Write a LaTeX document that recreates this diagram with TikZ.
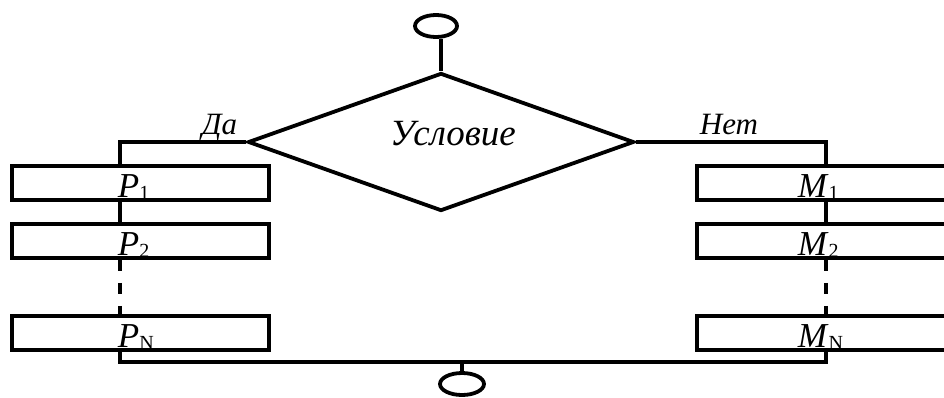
\documentclass[tikz,border=0pt]{standalone}
\usepackage{fontspec}
\setmainfont{Liberation Serif}
\usetikzlibrary{shapes.geometric}
\begin{document}
\begin{tikzpicture}[x=1pt,y=-1pt,
  line width=3.8pt,
  term/.style={draw, ellipse, minimum width=42pt, minimum height=22pt, inner sep=0pt},
  cond/.style={draw, diamond, minimum width=386pt, minimum height=138pt, inner sep=0pt},
  proc/.style={draw, rectangle, minimum width=257pt, minimum height=34pt, inner sep=0pt},
  lbl/.style={font=\fontsize{31}{31}\selectfont\itshape, inner sep=0pt},
  sub/.style={font=\fontsize{35}{35}\selectfont, inner sep=0pt, anchor=base west},
  dots/.style={dash pattern=on 11pt off 12pt}
]
\useasboundingbox (0,0) rectangle (944,397);
\clip (0,0) rectangle (944,397);
\newcommand{\sbs}[1]{\raisebox{-2.5pt}{\fontsize{20}{20}\selectfont\upshape #1}}
% nodes
\node[term] (start) at (436,26) {};
\node[cond] (c) at (441,142) {};
\node[lbl, anchor=base, font=\fontsize{37}{37}\selectfont\itshape] (ctext) at (453,145) {Условие};
\node[proc] (P1) at (140.5,183) {};
\node[proc] (P2) at (140.5,241) {};
\node[proc] (PN) at (140.5,333) {};
\node[proc] (M1) at (825.5,183) {};
\node[proc] (M2) at (825.5,241) {};
\node[proc] (MN) at (825.5,333) {};
\node[term, minimum width=44pt] (end) at (462,384) {};
\coordinate (vl) at (120,0);
\coordinate (vr) at (826,0);
\coordinate (bl) at (120,362);
\coordinate (br) at (826,362);
\coordinate (bm) at (462,362);
% labels
\node[lbl, anchor=base west] (yes) at (200,134) {Да};
\node[lbl, anchor=base west] (no) at (698,134) {Нет};
\node[sub] (p1) at (116,197) {\textit{P}\sbs{1}};
\node[sub] (p2) at (116,255) {\textit{P}\sbs{2}};
\node[sub] (pn) at (116,347) {\textit{P}\sbs{N}};
\node[sub] (m1) at (796,197) {\textit{M}\sbs{1}};
\node[sub] (m2) at (796,255) {\textit{M}\sbs{2}};
\node[sub] (mn) at (796,347) {\textit{M}\sbs{N}};
% connectors
\draw (start.south -| c.north) -- (c.north);
\draw (c.west) -| (vl |- P1.north);
\draw (c.east) -| (vr |- M1.north);
\draw (vl |- P1.south) -- (vl |- P2.north);
\draw (vr |- M1.south) -- (vr |- M2.north);
\draw[dots] (vl |- P2.south) -- (vl |- PN.north);
\draw[dots] (vr |- M2.south) -- (vr |- MN.north);
\draw (vl |- PN.south) -- ([yshift=1.9pt]bl) -- (bl) -- (br) -- ([yshift=4pt]br);
\draw (vr |- MN.south) -- (br);
\draw (bm) -- (end.north);
\end{tikzpicture}
\end{document}
